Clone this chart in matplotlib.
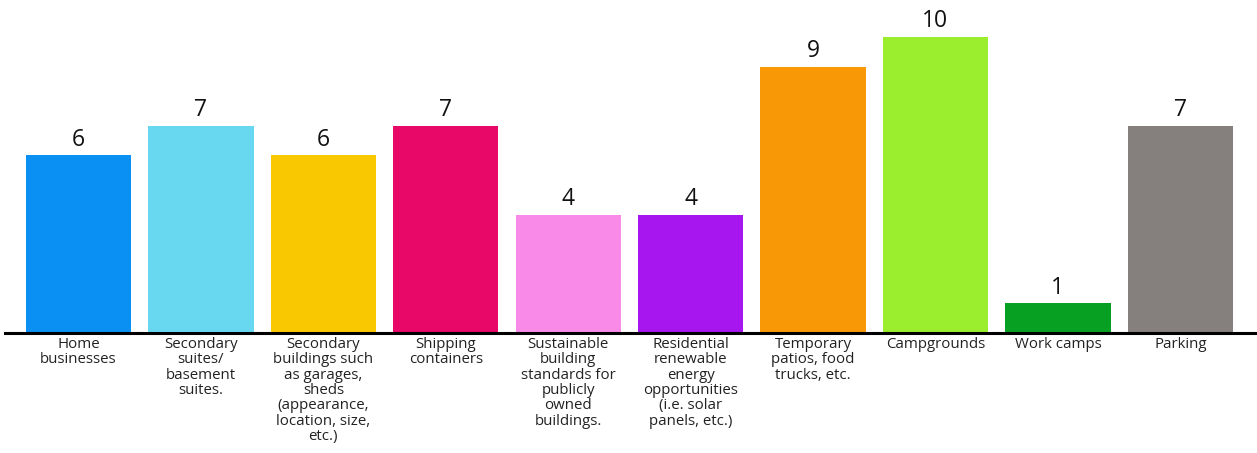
import matplotlib.pyplot as plt

categories = [
    "Home\nbusinesses",
    "Secondary\nsuites/\nbasement\nsuites.",
    "Secondary\nbuildings such\nas garages,\nsheds\n(appearance,\nlocation, size,\netc.)",
    "Shipping\ncontainers",
    "Sustainable\nbuilding\nstandards for\npublicly\nowned\nbuildings.",
    "Residential\nrenewable\nenergy\nopportunities\n(i.e. solar\npanels, etc.)",
    "Temporary\npatios, food\ntrucks, etc.",
    "Campgrounds",
    "Work camps",
    "Parking",
]
values = [6, 7, 6, 7, 4, 4, 9, 10, 1, 7]
colors = ["#0A8FF2", "#68D8F0", "#F9C800", "#E80868", "#F98AE8",
          "#A716EE", "#F89806", "#9BEE2E", "#07A022", "#857F7E"]

plt.rcParams['font.family'] = ['Open Sans', 'DejaVu Sans']

fig = plt.figure(figsize=(12.57, 4.53), dpi=100)
ax = fig.add_axes([5 / 1257, 120 / 453, 1250 / 1257, 11 * 29.6 / 453])

x = range(len(values))
bars = ax.bar(x, values, width=0.86, color=colors)
for i, v in enumerate(values):
    ax.text(i, v + 0.12, str(v), ha="center", va="bottom", fontsize=16.5, color="#111111")

ax.set_xlim(-0.60, 9.61)
ax.set_ylim(0, 11)
ax.set_xticks(list(x))
ax.set_xticklabels(categories, fontsize=10.8, color="#222222", linespacing=1.03, va="top")
ax.tick_params(axis="x", length=0, pad=3)
ax.set_yticks([])
for s in ["top", "right", "left"]:
    ax.spines[s].set_visible(False)
ax.spines["bottom"].set_linewidth(2.2)
ax.spines["bottom"].set_color("black")

plt.savefig("out.png", dpi=100)
plt.close()
